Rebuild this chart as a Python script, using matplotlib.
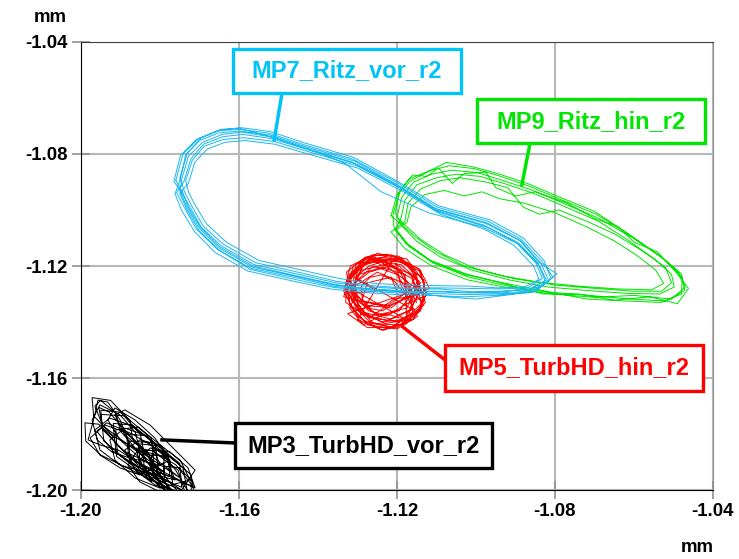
import matplotlib
matplotlib.use("Agg")
import matplotlib.pyplot as plt
from matplotlib.patches import Rectangle

plt.rcParams['font.family'] = ['Liberation Sans', 'DejaVu Sans']

# axis ticks (mm)
xticks = [-1.20, -1.16, -1.12, -1.08, -1.04]
yticks = [-1.20, -1.16, -1.12, -1.08, -1.04]

# MP7_Ritz_vor_r2 orbit revolutions (x, y) in mm
mp7_revs = [
    [(-1.1760, -1.0895), (-1.1742, -1.0800), (-1.1702, -1.0745), (-1.1650, -1.0715), (-1.1595, -1.0706),
     (-1.1520, -1.0720), (-1.1435, -1.0760), (-1.1310, -1.0812), (-1.1198, -1.0898), (-1.1095, -1.0985),
     (-1.0965, -1.1035), (-1.0880, -1.1100), (-1.0828, -1.1180), (-1.0810, -1.1245), (-1.0858, -1.1290),
     (-1.0940, -1.1296), (-1.1020, -1.1296), (-1.1100, -1.1292), (-1.1195, -1.1292), (-1.1270, -1.1286),
     (-1.1360, -1.1272), (-1.1442, -1.1246), (-1.1570, -1.1208), (-1.1655, -1.1140), (-1.1708, -1.1068),
     (-1.1738, -1.0992), (-1.1758, -1.0938)],
    [(-1.1740, -1.0900), (-1.1722, -1.0818), (-1.1690, -1.0765), (-1.1640, -1.0738), (-1.1590, -1.0730),
     (-1.1518, -1.0745), (-1.1432, -1.0782), (-1.1305, -1.0835), (-1.1195, -1.0915), (-1.1098, -1.1002),
     (-1.0978, -1.1055), (-1.0898, -1.1115), (-1.0848, -1.1190), (-1.0832, -1.1245), (-1.0870, -1.1278),
     (-1.0940, -1.1282), (-1.1012, -1.1280), (-1.1095, -1.1278), (-1.1188, -1.1278), (-1.1262, -1.1270),
     (-1.1352, -1.1255), (-1.1432, -1.1228), (-1.1558, -1.1188), (-1.1640, -1.1122), (-1.1690, -1.1058),
     (-1.1720, -1.0985), (-1.1738, -1.0935)],
    [(-1.1750, -1.0885), (-1.1730, -1.0795), (-1.1695, -1.0742), (-1.1645, -1.0712), (-1.1600, -1.0708),
     (-1.1528, -1.0735), (-1.1440, -1.0775), (-1.1315, -1.0828), (-1.1205, -1.0910), (-1.1104, -1.0996),
     (-1.0975, -1.1048), (-1.0885, -1.1112), (-1.0835, -1.1192), (-1.0815, -1.1255), (-1.0860, -1.1295),
     (-1.0945, -1.1300), (-1.1025, -1.1302), (-1.1105, -1.1298), (-1.1200, -1.1296), (-1.1275, -1.1290),
     (-1.1362, -1.1276), (-1.1445, -1.1252), (-1.1572, -1.1212), (-1.1652, -1.1142), (-1.1702, -1.1072),
     (-1.1732, -1.0998), (-1.1750, -1.0940)],
    [(-1.1745, -1.0890), (-1.1728, -1.0808), (-1.1692, -1.0758), (-1.1642, -1.0730), (-1.1592, -1.0722),
     (-1.1515, -1.0740), (-1.1390, -1.0800), (-1.1330, -1.0835), (-1.1240, -1.0935), (-1.1120, -1.1010),
     (-1.0985, -1.1060), (-1.0895, -1.1120), (-1.0842, -1.1195), (-1.0825, -1.1252), (-1.0866, -1.1284),
     (-1.0935, -1.1290), (-1.1010, -1.1292), (-1.1092, -1.1282), (-1.1185, -1.1282), (-1.1265, -1.1275),
     (-1.1355, -1.1260), (-1.1435, -1.1234), (-1.1562, -1.1195), (-1.1645, -1.1128), (-1.1695, -1.1062),
     (-1.1724, -1.0990), (-1.1745, -1.0938)],
    [(-1.1765, -1.0898), (-1.1748, -1.0805), (-1.1708, -1.0748), (-1.1655, -1.0718), (-1.1600, -1.0712),
     (-1.1525, -1.0725), (-1.1440, -1.0765), (-1.1312, -1.0818), (-1.1200, -1.0902), (-1.1098, -1.0990),
     (-1.0970, -1.1040), (-1.0885, -1.1105), (-1.0832, -1.1185), (-1.0805, -1.1240), (-1.0850, -1.1292),
     (-1.0950, -1.1305), (-1.1030, -1.1310), (-1.1110, -1.1305), (-1.1205, -1.1302), (-1.1280, -1.1295),
     (-1.1368, -1.1282), (-1.1450, -1.1258), (-1.1578, -1.1218), (-1.1662, -1.1150), (-1.1712, -1.1078),
     (-1.1745, -1.1002), (-1.1762, -1.0942)],
    [(-1.1748, -1.0888), (-1.1735, -1.0802), (-1.1700, -1.0752), (-1.1652, -1.0725), (-1.1598, -1.0718),
     (-1.1522, -1.0732), (-1.1436, -1.0772), (-1.1308, -1.0825), (-1.1202, -1.0908), (-1.1100, -1.0996),
     (-1.0972, -1.1046), (-1.0890, -1.1108), (-1.0840, -1.1188), (-1.0795, -1.1228), (-1.0830, -1.1268),
     (-1.0900, -1.1300), (-1.1000, -1.1318), (-1.1080, -1.1310), (-1.1190, -1.1288), (-1.1268, -1.1282),
     (-1.1358, -1.1268), (-1.1440, -1.1242), (-1.1566, -1.1204), (-1.1650, -1.1136), (-1.1700, -1.1066),
     (-1.1730, -1.0994), (-1.1748, -1.0937)],
    [(-1.1728, -1.0905), (-1.1712, -1.0830), (-1.1680, -1.0782), (-1.1635, -1.0758), (-1.1585, -1.0752),
     (-1.1510, -1.0765), (-1.1425, -1.0800), (-1.1300, -1.0850), (-1.1190, -1.0930), (-1.1090, -1.1015),
     (-1.0980, -1.1068), (-1.0905, -1.1125), (-1.0855, -1.1198), (-1.0840, -1.1248), (-1.0878, -1.1275),
     (-1.0945, -1.1278), (-1.1015, -1.1272), (-1.1095, -1.1270), (-1.1185, -1.1268), (-1.1258, -1.1262),
     (-1.1345, -1.1245), (-1.1425, -1.1220), (-1.1550, -1.1180), (-1.1632, -1.1115), (-1.1682, -1.1050),
     (-1.1712, -1.0980), (-1.1728, -1.0935)],
    [(-1.1735, -1.0895), (-1.1718, -1.0822), (-1.1688, -1.0772), (-1.1640, -1.0748), (-1.1588, -1.0742),
     (-1.1512, -1.0755), (-1.1428, -1.0790), (-1.1302, -1.0842), (-1.1192, -1.0922), (-1.1094, -1.1008),
     (-1.0975, -1.1060), (-1.0892, -1.1118), (-1.0842, -1.1192), (-1.0822, -1.1250), (-1.0862, -1.1282),
     (-1.0942, -1.1292), (-1.1018, -1.1295), (-1.1102, -1.1290), (-1.1192, -1.1290), (-1.1268, -1.1283),
     (-1.1356, -1.1266), (-1.1438, -1.1240), (-1.1564, -1.1200), (-1.1648, -1.1132), (-1.1698, -1.1062),
     (-1.1728, -1.0990), (-1.1742, -1.0938)],
]

# MP9_Ritz_hin_r2
mp9_revs = [
    [(-1.1215, -1.1020), (-1.1200, -1.0945), (-1.1170, -1.0890), (-1.1118, -1.0860), (-1.1068, -1.0842),
     (-1.1005, -1.0852), (-1.0942, -1.0878), (-1.0865, -1.0915), (-1.0790, -1.0960), (-1.0696, -1.1015),
     (-1.0612, -1.1088), (-1.0535, -1.1165), (-1.0480, -1.1228), (-1.0472, -1.1288), (-1.0520, -1.1325),
     (-1.0610, -1.1318), (-1.0712, -1.1305), (-1.0815, -1.1294), (-1.0918, -1.1272), (-1.1018, -1.1240),
     (-1.1108, -1.1190), (-1.1170, -1.1130), (-1.1205, -1.1072)],
    [(-1.1190, -1.1030), (-1.1180, -1.0965), (-1.1150, -1.0910), (-1.1100, -1.0885), (-1.1050, -1.0872),
     (-1.0990, -1.0880), (-1.0930, -1.0905), (-1.0855, -1.0940), (-1.0780, -1.0985), (-1.0690, -1.1040),
     (-1.0618, -1.1105), (-1.0548, -1.1175), (-1.0505, -1.1230), (-1.0498, -1.1275), (-1.0535, -1.1300),
     (-1.0615, -1.1298), (-1.0715, -1.1288), (-1.0818, -1.1275), (-1.0915, -1.1250), (-1.1010, -1.1215),
     (-1.1090, -1.1168), (-1.1150, -1.1112), (-1.1182, -1.1065)],
    [(-1.1205, -1.1010), (-1.1192, -1.0930), (-1.1160, -1.0875), (-1.1125, -1.0880), (-1.1095, -1.0850),
     (-1.1060, -1.0905), (-1.1030, -1.0870), (-1.0975, -1.0865), (-1.0950, -1.0920), (-1.0900, -1.0950),
     (-1.0850, -1.0935), (-1.0770, -1.0975), (-1.0700, -1.1030), (-1.0640, -1.1060), (-1.0600, -1.1115),
     (-1.0540, -1.1150), (-1.0495, -1.1220), (-1.0462, -1.1280), (-1.0490, -1.1335), (-1.0560, -1.1310),
     (-1.0650, -1.1322), (-1.0740, -1.1300), (-1.0830, -1.1300), (-1.0925, -1.1265), (-1.1025, -1.1228),
     (-1.1115, -1.1180), (-1.1178, -1.1118), (-1.1208, -1.1060)],
    [(-1.1210, -1.1015), (-1.1195, -1.0940), (-1.1165, -1.0895), (-1.1110, -1.0855), (-1.1075, -1.0830),
     (-1.1010, -1.0845), (-1.0945, -1.0870), (-1.0870, -1.0905), (-1.0795, -1.0950), (-1.0700, -1.1005),
     (-1.0620, -1.1080), (-1.0540, -1.1158), (-1.0490, -1.1215), (-1.0470, -1.1275), (-1.0505, -1.1318),
     (-1.0600, -1.1305), (-1.0700, -1.1312), (-1.0805, -1.1300), (-1.0910, -1.1280), (-1.1020, -1.1250),
     (-1.1112, -1.1200), (-1.1180, -1.1138), (-1.1215, -1.1078)],
    [(-1.1180, -1.1040), (-1.1172, -1.0975), (-1.1140, -1.0925), (-1.1090, -1.0895), (-1.1040, -1.0885),
     (-1.0975, -1.0900), (-1.0920, -1.0920), (-1.0880, -1.0990), (-1.0840, -1.1015), (-1.0790, -1.1000),
     (-1.0720, -1.1040), (-1.0650, -1.1085), (-1.0580, -1.1145), (-1.0520, -1.1205), (-1.0505, -1.1260),
     (-1.0530, -1.1290), (-1.0600, -1.1290), (-1.0700, -1.1280), (-1.0800, -1.1268), (-1.0905, -1.1245),
     (-1.1000, -1.1210), (-1.1080, -1.1160), (-1.1140, -1.1105), (-1.1175, -1.1060)],
    [(-1.1200, -1.1025), (-1.1188, -1.0955), (-1.1158, -1.0900), (-1.1112, -1.0872), (-1.1062, -1.0858),
     (-1.0998, -1.0866), (-1.0938, -1.0892), (-1.0860, -1.0928), (-1.0785, -1.0972), (-1.0692, -1.1028),
     (-1.0605, -1.1098), (-1.0528, -1.1170), (-1.0478, -1.1240), (-1.0480, -1.1300), (-1.0530, -1.1330),
     (-1.0620, -1.1325), (-1.0720, -1.1318), (-1.0822, -1.1290), (-1.0925, -1.1262), (-1.1025, -1.1232),
     (-1.1115, -1.1182), (-1.1172, -1.1122), (-1.1202, -1.1070)],
    [(-1.1175, -1.1045), (-1.1165, -1.0990), (-1.1130, -1.0945), (-1.1080, -1.0930), (-1.1030, -1.0950),
     (-1.0985, -1.0935), (-1.0940, -1.0960), (-1.0880, -1.0975), (-1.0800, -1.1010), (-1.0720, -1.1060),
     (-1.0650, -1.1110), (-1.0590, -1.1165), (-1.0545, -1.1215), (-1.0525, -1.1262), (-1.0555, -1.1285),
     (-1.0640, -1.1282), (-1.0740, -1.1272), (-1.0840, -1.1258), (-1.0935, -1.1235), (-1.1030, -1.1200),
     (-1.1100, -1.1150), (-1.1150, -1.1100)],
]

# MP5_TurbHD_hin_r2
mp5_revs = [
    [(-1.1140, -1.1290), (-1.1160, -1.1205), (-1.1220, -1.1168), (-1.1285, -1.1175), (-1.1326, -1.1250),
     (-1.1320, -1.1338), (-1.1280, -1.1400), (-1.1215, -1.1418), (-1.1160, -1.1370)],
    [(-1.1168, -1.1275), (-1.1190, -1.1215), (-1.1232, -1.1182), (-1.1270, -1.1200), (-1.1310, -1.1245),
     (-1.1300, -1.1318), (-1.1272, -1.1360), (-1.1225, -1.1378), (-1.1180, -1.1338)],
    [(-1.1125, -1.1305), (-1.1140, -1.1220), (-1.1210, -1.1175), (-1.1282, -1.1190), (-1.1330, -1.1262),
     (-1.1318, -1.1345), (-1.1275, -1.1410), (-1.1200, -1.1425), (-1.1148, -1.1380)],
    [(-1.1192, -1.1262), (-1.1200, -1.1208), (-1.1244, -1.1178), (-1.1283, -1.1195), (-1.1302, -1.1240),
     (-1.1310, -1.1290), (-1.1276, -1.1342), (-1.1236, -1.1346), (-1.1208, -1.1318)],
    [(-1.1148, -1.1305), (-1.1162, -1.1245), (-1.1218, -1.1200), (-1.1270, -1.1222), (-1.1315, -1.1270),
     (-1.1305, -1.1350), (-1.1270, -1.1398), (-1.1212, -1.1420), (-1.1170, -1.1375)],
    [(-1.1150, -1.1255), (-1.1172, -1.1188), (-1.1225, -1.1158), (-1.1280, -1.1168), (-1.1328, -1.1222),
     (-1.1318, -1.1285), (-1.1288, -1.1325), (-1.1220, -1.1342), (-1.1165, -1.1305)],
    [(-1.1200, -1.1290), (-1.1212, -1.1250), (-1.1238, -1.1232), (-1.1268, -1.1240), (-1.1290, -1.1272),
     (-1.1288, -1.1318), (-1.1268, -1.1352), (-1.1236, -1.1360), (-1.1212, -1.1338)],
    [(-1.1118, -1.1280), (-1.1142, -1.1212), (-1.1205, -1.1172), (-1.1272, -1.1180), (-1.1318, -1.1248),
     (-1.1315, -1.1325), (-1.1268, -1.1385), (-1.1200, -1.1398), (-1.1148, -1.1362)],
    [(-1.1130, -1.1320), (-1.1150, -1.1240), (-1.1195, -1.1165), (-1.1262, -1.1160), (-1.1318, -1.1200),
     (-1.1335, -1.1290), (-1.1300, -1.1380), (-1.1240, -1.1428), (-1.1175, -1.1405)],
    [(-1.1180, -1.1230), (-1.1240, -1.1205), (-1.1295, -1.1230), (-1.1322, -1.1300), (-1.1290, -1.1372),
     (-1.1225, -1.1395), (-1.1165, -1.1355), (-1.1142, -1.1290)],
    [(-1.1260, -1.1165), (-1.1300, -1.1215), (-1.1312, -1.1310), (-1.1262, -1.1405), (-1.1185, -1.1412),
     (-1.1138, -1.1345), (-1.1150, -1.1250), (-1.1205, -1.1190)],
    [(-1.1150, -1.1330), (-1.1182, -1.1262), (-1.1250, -1.1222), (-1.1305, -1.1270), (-1.1298, -1.1352),
     (-1.1240, -1.1400), (-1.1178, -1.1390)],
    [(-1.1330, -1.1270), (-1.1290, -1.1190), (-1.1215, -1.1160), (-1.1145, -1.1210), (-1.1125, -1.1300),
     (-1.1160, -1.1392), (-1.1235, -1.1430), (-1.1300, -1.1392)],
    [(-1.1210, -1.1180), (-1.1275, -1.1170), (-1.1320, -1.1230), (-1.1305, -1.1320), (-1.1250, -1.1375),
     (-1.1175, -1.1350), (-1.1150, -1.1270)],
    [(-1.1270, -1.1385), (-1.1330, -1.1330), (-1.1325, -1.1240), (-1.1265, -1.1180), (-1.1185, -1.1185),
     (-1.1132, -1.1250), (-1.1135, -1.1340), (-1.1190, -1.1410)],
    [(-1.1145, -1.1300), (-1.1165, -1.1228), (-1.1230, -1.1195), (-1.1290, -1.1215), (-1.1318, -1.1290),
     (-1.1285, -1.1365), (-1.1215, -1.1390), (-1.1160, -1.1355)],
    [(-1.1320, -1.1230), (-1.1270, -1.1175), (-1.1235, -1.1200), (-1.1190, -1.1170), (-1.1150, -1.1230),
     (-1.1168, -1.1280), (-1.1135, -1.1330), (-1.1180, -1.1390), (-1.1230, -1.1370), (-1.1285, -1.1410),
     (-1.1320, -1.1350), (-1.1300, -1.1295)],
    [(-1.1250, -1.1290), (-1.1300, -1.1250), (-1.1260, -1.1200), (-1.1200, -1.1230), (-1.1170, -1.1300),
     (-1.1215, -1.1350), (-1.1275, -1.1330)],
    [(-1.1335, -1.1310), (-1.1310, -1.1200), (-1.1250, -1.1155), (-1.1175, -1.1175), (-1.1130, -1.1260),
     (-1.1140, -1.1360), (-1.1200, -1.1420), (-1.1275, -1.1420), (-1.1325, -1.1370)],
    [(-1.1180, -1.1300), (-1.1215, -1.1240), (-1.1275, -1.1260), (-1.1290, -1.1330), (-1.1245, -1.1380),
     (-1.1195, -1.1360)],
    [(-1.1140, -1.1260), (-1.1190, -1.1195), (-1.1255, -1.1185), (-1.1305, -1.1205), (-1.1330, -1.1285),
     (-1.1290, -1.1365), (-1.1230, -1.1405), (-1.1160, -1.1390), (-1.1128, -1.1330)],
]

# MP3_TurbHD_vor_r2
mp3_revs = [
    [(-1.1870, -1.1815), (-1.1876, -1.1752), (-1.1925, -1.1680), (-1.1972, -1.1670), (-1.1968, -1.1735), (-1.1918, -1.1808)],
    [(-1.1840, -1.1870), (-1.1850, -1.1800), (-1.1900, -1.1722), (-1.1950, -1.1715), (-1.1945, -1.1785), (-1.1890, -1.1862)],
    [(-1.1805, -1.1918), (-1.1812, -1.1835), (-1.1870, -1.1768), (-1.1918, -1.1762), (-1.1915, -1.1830), (-1.1856, -1.1910)],
    [(-1.1775, -1.1952), (-1.1780, -1.1870), (-1.1835, -1.1806), (-1.1885, -1.1800), (-1.1880, -1.1868), (-1.1825, -1.1945)],
    [(-1.1745, -1.1990), (-1.1750, -1.1905), (-1.1805, -1.1842), (-1.1855, -1.1835), (-1.1850, -1.1905), (-1.1795, -1.1982)],
    [(-1.1720, -1.2030), (-1.1722, -1.1945), (-1.1775, -1.1880), (-1.1822, -1.1875), (-1.1818, -1.1945), (-1.1765, -1.2020)],
    [(-1.1815, -1.1910), (-1.1822, -1.1815), (-1.1890, -1.1735), (-1.1950, -1.1730), (-1.1942, -1.1825), (-1.1875, -1.1905)],
    [(-1.1768, -1.1975), (-1.1775, -1.1895), (-1.1830, -1.1830), (-1.1880, -1.1825), (-1.1875, -1.1895), (-1.1820, -1.1970)],
    [(-1.1910, -1.1880), (-1.1915, -1.1815), (-1.1955, -1.1765), (-1.1990, -1.1760), (-1.1988, -1.1825), (-1.1950, -1.1875)],
    [(-1.1712, -1.2040), (-1.1718, -1.1970), (-1.1752, -1.1920), (-1.1790, -1.1915), (-1.1788, -1.1975), (-1.1748, -1.2035)],
    [(-1.1900, -1.1790), (-1.1912, -1.1725), (-1.1950, -1.1680), (-1.1965, -1.1700), (-1.1945, -1.1770)],
    [(-1.1790, -1.1935), (-1.1790, -1.1850), (-1.1855, -1.1775), (-1.1912, -1.1785), (-1.1908, -1.1870), (-1.1845, -1.1940)],
    [(-1.1730, -1.2010), (-1.1742, -1.1920), (-1.1795, -1.1860), (-1.1845, -1.1858), (-1.1838, -1.1935), (-1.1785, -1.2005)],
    [(-1.1851, -1.1857), (-1.1863, -1.1793), (-1.1901, -1.1732), (-1.1952, -1.1696), (-1.1972, -1.1750),
     (-1.1959, -1.1821), (-1.1922, -1.1864), (-1.1876, -1.1886)],
    [(-1.1800, -1.1911), (-1.1825, -1.1821), (-1.1876, -1.1768), (-1.1927, -1.1743), (-1.1965, -1.1786),
     (-1.1952, -1.1857), (-1.1901, -1.1911), (-1.1838, -1.1936)],
    [(-1.1762, -1.1964), (-1.1787, -1.1875), (-1.1838, -1.1804), (-1.1889, -1.1779), (-1.1927, -1.1821),
     (-1.1914, -1.1893), (-1.1863, -1.1957), (-1.1800, -1.1993)],
    [(-1.1724, -1.1964), (-1.1749, -1.1893), (-1.1800, -1.1839), (-1.1851, -1.1821), (-1.1889, -1.1857),
     (-1.1863, -1.1929), (-1.1813, -1.1982), (-1.1749, -1.2007)],
    [(-1.1711, -1.1929), (-1.1762, -1.1857), (-1.1825, -1.1768), (-1.1889, -1.1714), (-1.1914, -1.1732),
     (-1.1889, -1.1804), (-1.1825, -1.1875), (-1.1749, -1.1957)],
    [(-1.1876, -1.1839), (-1.1901, -1.1750), (-1.1932, -1.1686), (-1.1957, -1.1679), (-1.1965, -1.1732),
     (-1.1982, -1.1821), (-1.1952, -1.1839), (-1.1906, -1.1857)],
    [(-1.1737, -1.2007), (-1.1754, -1.1929), (-1.1805, -1.1875), (-1.1856, -1.1857), (-1.1881, -1.1911),
     (-1.1851, -1.1971), (-1.1800, -1.2007), (-1.1762, -1.2018)],
    [(-1.1813, -1.1929), (-1.1838, -1.1857), (-1.1889, -1.1793), (-1.1939, -1.1768), (-1.1977, -1.1814),
     (-1.1952, -1.1875), (-1.1901, -1.1921), (-1.1851, -1.1946)],
    [(-1.1775, -1.1893), (-1.1813, -1.1814), (-1.1863, -1.1750), (-1.1914, -1.1707), (-1.1932, -1.1750),
     (-1.1901, -1.1821), (-1.1851, -1.1886), (-1.1800, -1.1929)],
    [(-1.1711, -1.1993), (-1.1729, -1.1921), (-1.1775, -1.1864), (-1.1825, -1.1850), (-1.1851, -1.1893),
     (-1.1825, -1.1957), (-1.1775, -1.2000), (-1.1724, -1.2018)],
    [(-1.1760, -1.1930), (-1.1800, -1.1860), (-1.1870, -1.1800), (-1.1935, -1.1760), (-1.1960, -1.1790),
     (-1.1920, -1.1860), (-1.1850, -1.1920), (-1.1790, -1.1975)],
    [(-1.1830, -1.1870), (-1.1880, -1.1800), (-1.1930, -1.1720), (-1.1955, -1.1705), (-1.1945, -1.1780),
     (-1.1900, -1.1850), (-1.1860, -1.1900)],
    [(-1.1715, -1.1990), (-1.1760, -1.1910), (-1.1820, -1.1860), (-1.1860, -1.1850), (-1.1850, -1.1920),
     (-1.1800, -1.1990), (-1.1740, -1.2030)],
]

# label boxes: name, colour, box (x0, x1, y0, y1), leader (x from, y from, x to, y to)
labels = [
    ("MP7_Ritz_vor_r2", "#00c4f5", (-1.1615, -1.1038, -1.0582, -1.0425), (-1.1491, -1.0582, -1.1511, -1.0750)),
    ("MP9_Ritz_hin_r2", "#00e600", (-1.0997, -1.0420, -1.0761, -1.0604), (-1.0863, -1.0761, -1.0884, -1.0911)),
    ("MP5_TurbHD_hin_r2", "#ff0000", (-1.1078, -1.0425, -1.1646, -1.1482), (-1.1078, -1.1536, -1.1185, -1.1418)),
    ("MP3_TurbHD_vor_r2", "#000000", (-1.1610, -1.0960, -1.1921, -1.1761), (-1.1610, -1.1832, -1.1795, -1.1821)),
]


def trace(revs):
    xs, ys = [], []
    for rev in revs:
        for x, y in rev:
            xs.append(x)
            ys.append(y)
    xs.append(revs[0][0][0])
    ys.append(revs[0][0][1])
    return xs, ys


fig = plt.figure(figsize=(7.39, 5.59), dpi=100)
ax = fig.add_axes([0.1096, 0.1234, 0.8552, 0.8015])

for revs, col in [(mp3_revs, "#000000"), (mp5_revs, "#ff0000"), (mp9_revs, "#00e600"), (mp7_revs, "#1cb8f0")]:
    xs, ys = trace(revs)
    ax.plot(xs, ys, color=col, lw=0.7)

for name, col, box, lead in labels:
    x0, x1, y0, y1 = box
    ax.plot([lead[0], lead[2]], [lead[1], lead[3]], color=col, lw=2.5, clip_on=False, zorder=5)
    ax.add_patch(Rectangle((x0, y0), x1 - x0, y1 - y0, facecolor="white", edgecolor=col,
                           lw=2.4, clip_on=False, zorder=6))
    ax.text((x0 + x1) / 2, (y0 + y1) / 2, name, color=col, fontsize=17, fontweight="bold",
            ha="center", va="center", zorder=7)

ax.set_xlim(-1.20, -1.04)
ax.set_ylim(-1.20, -1.04)
ax.set_xticks(xticks)
ax.set_yticks(yticks)
ax.set_xticklabels([f"{v:.2f}" for v in xticks])
ax.set_yticklabels([f"{v:.2f}" for v in yticks])
ax.grid(True, color="#b8b8b8", lw=1.5)
ax.set_axisbelow(True)
ax.tick_params(direction="inout", length=13, width=1.2, color="#909090", pad=3,
               labelsize=13.4)
for lab in ax.get_xticklabels() + ax.get_yticklabels():
    lab.set_fontweight("bold")
ax.spines["left"].set_color("black")
ax.spines["bottom"].set_color("black")
ax.spines["top"].set_color("#404040")
ax.spines["right"].set_color("#909090")

fig.text(50 / 739, 1 - 18 / 559, "mm", fontsize=13.4, fontweight="bold", ha="center", va="center")
fig.text(697 / 739, 1 - 548 / 559, "mm", fontsize=13.4, fontweight="bold", ha="center", va="center")

fig.savefig("out.png", dpi=100)
